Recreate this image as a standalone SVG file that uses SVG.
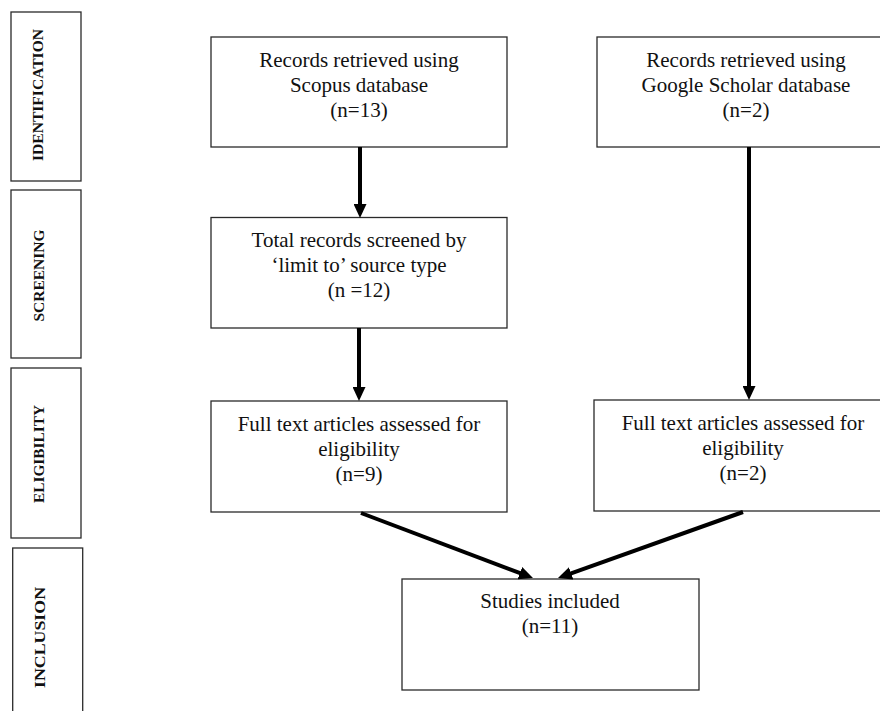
<svg xmlns="http://www.w3.org/2000/svg" width="880" height="711" viewBox="0 0 880 711">
<style>
.box{fill:#fff;stroke:#2a2a2a;stroke-width:1.3}
.t{font-family:"Liberation Serif","Times New Roman",serif;font-size:21px;fill:#111;text-anchor:middle}
.side{font-family:"Liberation Serif","Times New Roman",serif;font-size:15.4px;font-weight:bold;fill:#111;text-anchor:middle}
.arr{stroke:#000;stroke-width:4;fill:none;marker-end:url(#ah)}
</style>
<defs>
<marker id="ah" markerUnits="userSpaceOnUse" markerWidth="14" markerHeight="13" refX="6" refY="6.5" orient="auto" viewBox="0 0 14 13">
<path d="M0,0 L14,6.5 L0,13 z" fill="#000"/>
</marker>
</defs>
<rect width="880" height="711" fill="#fff"/>
<g id="stage-identification"><rect class="box" x="11" y="12" width="70" height="169"/><text class="side" transform="translate(43,95) rotate(-90)" textLength="132" lengthAdjust="spacingAndGlyphs">IDENTIFICATION</text></g>
<g id="stage-screening"><rect class="box" x="11" y="190" width="70" height="168"/><text class="side" transform="translate(44,275.5) rotate(-90)" textLength="92" lengthAdjust="spacingAndGlyphs">SCREENING</text></g>
<g id="stage-eligibility"><rect class="box" x="11" y="368" width="70" height="170"/><text class="side" transform="translate(44,454) rotate(-90)" textLength="98" lengthAdjust="spacingAndGlyphs">ELIGIBILITY</text></g>
<g id="stage-inclusion"><rect class="box" x="12.7" y="548" width="70" height="166"/><text class="side" transform="translate(45,637.5) rotate(-90)" textLength="101" lengthAdjust="spacingAndGlyphs">INCLUSION</text></g>
<g id="scopus"><rect class="box" x="211" y="37" width="296" height="110"/><text class="t" x="359" y="67">Records retrieved using</text><text class="t" x="359" y="92">Scopus database</text><text class="t" x="359" y="117">(n=13)</text></g>
<g id="scholar"><rect class="box" x="597" y="37" width="300" height="110"/><text class="t" x="746" y="67">Records retrieved using</text><text class="t" x="746" y="92">Google Scholar database</text><text class="t" x="746" y="117">(n=2)</text></g>
<g id="screened"><rect class="box" x="211" y="217.5" width="296" height="110.5"/><text class="t" x="359" y="247">Total records screened by</text><text class="t" x="359" y="272">‘limit to’ source type</text><text class="t" x="359" y="297">(n =12)</text></g>
<g id="elig-left"><rect class="box" x="211" y="401" width="296" height="111"/><text class="t" x="359" y="431">Full text articles assessed for</text><text class="t" x="359" y="456">eligibility</text><text class="t" x="359" y="481">(n=9)</text></g>
<g id="elig-right"><rect class="box" x="594" y="400" width="300" height="111"/><text class="t" x="743" y="430">Full text articles assessed for</text><text class="t" x="743" y="455">eligibility</text><text class="t" x="743" y="480">(n=2)</text></g>
<g id="included"><rect class="box" x="402" y="579" width="297" height="111"/><text class="t" x="550" y="608">Studies included</text><text class="t" x="550" y="633">(n=11)</text></g>
<g id="connectors">
<line class="arr" x1="360" y1="147" x2="360" y2="210"/>
<line class="arr" x1="359" y1="328" x2="359" y2="393"/>
<line class="arr" x1="749" y1="147" x2="749" y2="392"/>
<line class="arr" x1="361" y1="513" x2="525.5" y2="575.2"/>
<line class="arr" x1="743" y1="512" x2="565.5" y2="575.3"/>
</g>
</svg>
